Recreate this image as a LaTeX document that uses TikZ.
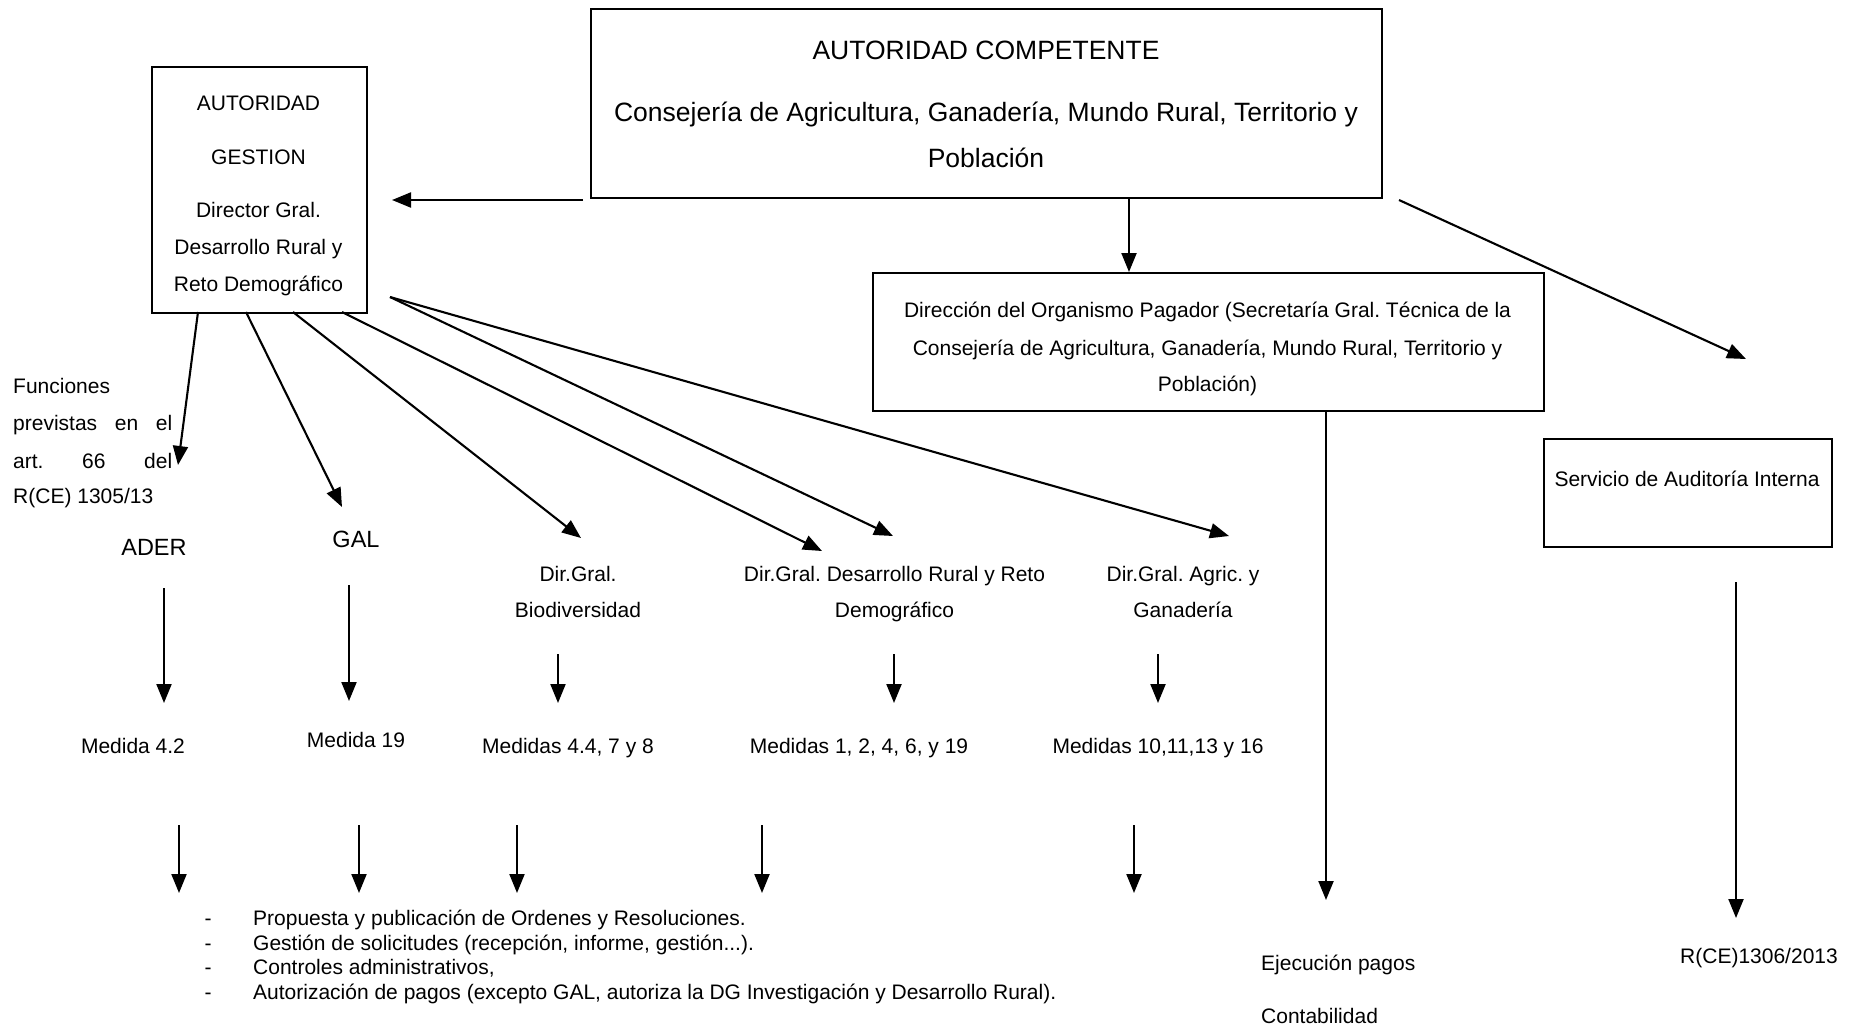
\documentclass[tikz,border=0pt]{standalone}
\usepackage{fontspec}
\setmainfont{Liberation Sans}
\usetikzlibrary{arrows.meta}
\begin{document}
\frenchspacing
\begin{tikzpicture}[x=1pt,y=-1pt,
  box/.style={draw, line width=1.9pt, inner sep=0pt, anchor=north west},
  conn/.style={line width=2.1pt, -{Triangle[length=19pt,width=15pt]}},
  txt/.style={inner sep=0pt, anchor=base, font=\fontsize{21}{25}\selectfont},
  txtl/.style={inner sep=0pt, anchor=base west, font=\fontsize{21}{25}\selectfont},
  bigtxt/.style={inner sep=0pt, anchor=base, font=\fontsize{26.5}{30}\selectfont},
  midtxt/.style={inner sep=0pt, anchor=base, font=\fontsize{23.5}{28}\selectfont}]
\useasboundingbox (0,0) rectangle (1862,1029);

% boxes
\node[box, minimum width=791pt, minimum height=189pt] (ac) at (590,8) {};
\node[box, minimum width=215pt, minimum height=246pt] (ag) at (151,66) {};
\node[box, minimum width=671pt, minimum height=138pt] (op) at (872,272) {};
\node[box, minimum width=288pt, minimum height=108pt] (sai) at (1543,438) {};

% AC texts
\node[bigtxt] (ac1) at (986,59.5) {AUTORIDAD COMPETENTE};
\node[bigtxt] (ac2) at (986,121) {Consejería de Agricultura, Ganadería, Mundo Rural, Territorio y};
\node[bigtxt] (ac3) at (986,167) {Población};

% AG texts
\node[txt] (ag1) at (258.5,110.5) {AUTORIDAD};
\node[txt] (ag2) at (258.5,164.5) {GESTION};
\node[txt] (ag3) at (258.5,217.5) {Director Gral.};
\node[txt] (ag4) at (258.5,254.5) {Desarrollo Rural y};
\node[txt] (ag5) at (258.5,291.5) {Reto Demográfico};

% OP texts
\node[txt] (op1) at (1207.5,317.5) {Dirección del Organismo Pagador (Secretaría Gral. Técnica de la};
\node[txt] (op2) at (1207.5,355.5) {Consejería de Agricultura, Ganadería, Mundo Rural, Territorio y};
\node[txt] (op3) at (1207.5,391.5) {Población)};

% SAI text
\node[txt] (sai1) at (1687,486.5) {Servicio de Auditoría Interna};

% arrows from AC
\coordinate (acl) at (583,200);
\coordinate (agr) at (392,200);
\draw[conn] (acl) -- (agr);
\coordinate (acd) at (1129,197);
\draw[conn] (acd) -- (acd |- op.north);
\coordinate (acr) at (1399,200);
\coordinate (saitop) at (1746,359);
\draw[conn] (acr) -- (saitop);

% labels level 2
\node[txtl] (f1) at (13,393) {Funciones};
\node[txtl] (f2) at (13,430) {\makebox[159pt][s]{previstas en el}};
\node[txtl] (f3) at (13,468) {\makebox[159pt][s]{art. 66 del}};
\node[txtl] (f4) at (13,503) {R(CE) 1305/13};

\node[midtxt] (ader) at (154,555.5) {ADER};
\node[midtxt] (gal) at (356,547.5) {GAL};
\node[txt] (bio1) at (578,581.5) {Dir.Gral.};
\node[txt] (bio2) at (578,617.5) {Biodiversidad};
\node[txt] (dr1) at (894.5,581.5) {Dir.Gral. Desarrollo Rural y Reto};
\node[txt] (dr2) at (894.5,617.5) {Demográfico};
\node[txt] (agr1) at (1183,581.5) {Dir.Gral. Agric. y};
\node[txt] (agr2) at (1183,617.5) {Ganadería};

% arrows from AG
\coordinate (s1) at (198,312);
\coordinate (s2) at (246,312);
\coordinate (s3) at (293,312);
\coordinate (s4) at (342,312);
\coordinate (s5) at (390,297);
\coordinate (e1) at (178,465);
\coordinate (e2) at (342,507);
\coordinate (e3) at (581,538);
\coordinate (e4) at (822,551);
\coordinate (e5) at (893,536);
\coordinate (e6) at (1229,536);
\draw[conn] (s1) -- (e1);
\draw[conn] (s2) -- (e2);
\draw[conn] (s3) -- (e3);
\draw[conn] (s4) -- (e4);
\draw[conn] (s5) -- (e5);
\draw[conn] (s5) -- (e6);

% medidas
\node[txt] (m1) at (133,753.5) {Medida 4.2};
\node[txt] (m2) at (356,747.5) {Medida 19};
\node[txt] (m3) at (568,753.5) {Medidas 4.4, 7 y 8};
\node[txt] (m4) at (859,753.5) {Medidas 1, 2, 4, 6, y 19};
\node[txt] (m5) at (1158,753.5) {Medidas 10,11,13 y 16};

\coordinate (a1) at (164,588); \coordinate (b1) at (164,703);
\coordinate (a2) at (349,585); \coordinate (b2) at (349,701);
\coordinate (a3) at (558,654); \coordinate (b3) at (558,703);
\coordinate (a4) at (894,654); \coordinate (b4) at (894,703);
\coordinate (a5) at (1158,654); \coordinate (b5) at (1158,703);
\foreach \i in {1,...,5} \draw[conn] (a\i) -- (b\i);

% bottom arrows
\foreach \x [count=\i] in {179,359,517,762,1134} {
  \coordinate (c\i) at (\x,825);
  \coordinate (d\i) at (\x,893);
  \draw[conn] (c\i) -- (d\i);
}

% list
\foreach \y/\t [count=\i] in {925/{Propuesta y publicación de Ordenes y Resoluciones.},
  950/{Gestión de solicitudes (recepción, informe, gestión...).},
  974/{Controles administrativos,},
  999/{Autorización de pagos (excepto GAL, autoriza la DG Investigación y Desarrollo Rural).}} {
  \node[txt] (dash\i) at (208,\y) {-};
  \node[txtl] (li\i) at (253,\y) {\t};
}

% right side
\coordinate (opd) at (1326,410);
\coordinate (opdend) at (1326,900);
\draw[conn] (opd) -- (opdend);
\node[txtl] (ej) at (1261,970) {Ejecución pagos};
\node[txtl] (cont) at (1261,1023) {Contabilidad};

\coordinate (said) at (1736,582);
\coordinate (saidend) at (1736,918);
\draw[conn] (said) -- (saidend);
\node[txt] (rce) at (1759,963.5) {R(CE)1306/2013};
\end{tikzpicture}
\end{document}
